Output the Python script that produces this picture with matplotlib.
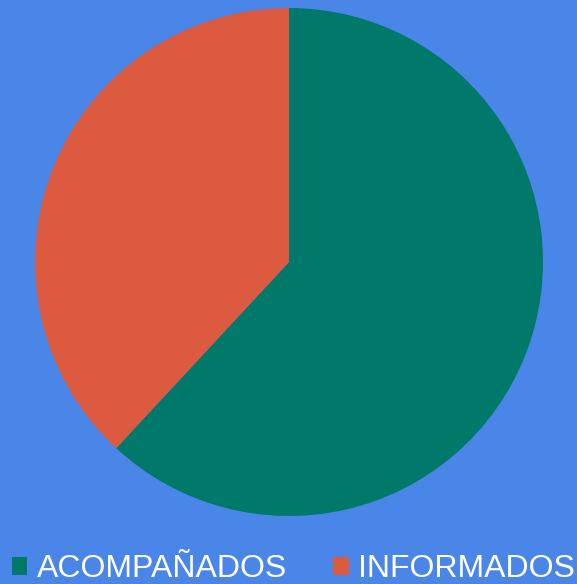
import matplotlib
matplotlib.use("Agg")
import matplotlib.pyplot as plt
from matplotlib.patches import Patch

labels = ["ACOMPAÑADOS", "INFORMADOS"]
values = [13, 8]
colors = ["#00796B", "#DC5A3F"]
bg = "#4A86E8"

W, H = 577, 584
fig = plt.figure(figsize=(W / 100, H / 100), dpi=100, facecolor=bg)
cx, cy, r = 289, 262, 254
ax = fig.add_axes([(cx - r) / W, (H - cy - r) / H, 2 * r / W, 2 * r / H])
ax.set_facecolor(bg)
ax.pie(values, colors=colors, startangle=90, counterclock=False, radius=1,
       wedgeprops=dict(linewidth=0))
ax.set_xlim(-1, 1)
ax.set_ylim(-1, 1)
ax.set_aspect("equal")
ax.axis("off")

handles = [Patch(facecolor=c, edgecolor="none") for c in colors]
leg = fig.legend(handles, labels, loc="lower center", bbox_to_anchor=(293 / W, 0.0),
                 ncol=2, frameon=False, labelcolor="white",
                 prop={"family": "Liberation Sans", "size": 23},
                 handlelength=0.5, handleheight=0.5, handletextpad=0.28,
                 columnspacing=1.44, borderaxespad=0, borderpad=0)

fig.savefig("out.png", dpi=100, facecolor=bg)
